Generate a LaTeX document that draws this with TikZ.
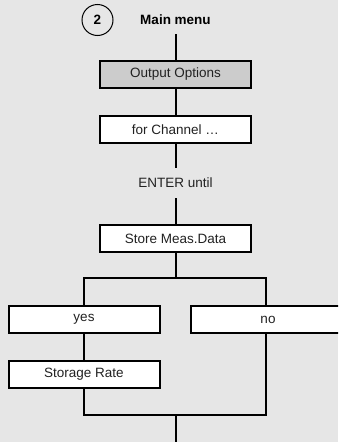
\documentclass[tikz,border=0pt]{standalone}
\usepackage{fontspec}
\setmainfont{Liberation Sans}
\usetikzlibrary{positioning,calc}
\definecolor{bg}{HTML}{E6E6E6}
\definecolor{selgray}{HTML}{CCCCCC}
\definecolor{txt}{HTML}{222222}

\begin{document}
\begin{tikzpicture}[x=1pt,y=-1pt,line width=2pt,
  menubox/.style={draw,minimum width=151pt,minimum height=27pt,inner sep=0,fill=white,font=\fontsize{13.5}{16}\selectfont,text=txt},
  selbox/.style={menubox,fill=selgray},
  stepno/.style={draw,circle,line width=1pt,minimum size=31pt,inner sep=0,font=\bfseries\fontsize{13.5}{16}\selectfont}]
\fill[bg] (0,0) rectangle (338,442);
\useasboundingbox (0,0) rectangle (338,442);
\clip (0,0) rectangle (338,442);
\node[stepno] (num) at (97.5,20) {2};
\node[font=\bfseries\fontsize{13.5}{16}\selectfont] (title) at (175.5,20) {Main menu};
\coordinate (top) at (175.5,34);
\node[selbox] (outopt) at (175.5,74.5) {Output Options};
\node[menubox] (channel) at (175.5,129.5) {for Channel \dots};
\node[minimum height=28pt,inner sep=0,font=\fontsize{13.5}{16}\selectfont,text=txt] (enter) at (175.5,183) {ENTER until};
\node[menubox] (store) at (175.5,238.5) {Store Meas.Data};
\node[menubox] (yes) at (84,319.5) {yes};
\node[menubox,minimum width=154pt] (no) at (268,319.5) {no};
\node[menubox] (rate) at (84,374.5) {Storage Rate};
\coordinate (split) at (175.5,278);
\coordinate (notop) at (266,306);
\coordinate (nobot) at (266,333);
\coordinate (merge) at (175.5,415);
\coordinate (out) at (175.5,445);
% main chain
\draw (top) -- (outopt.north);
\draw (outopt.south) -- (channel.north);
\draw (channel.south) -- (enter.north);
\draw (enter.south) -- (store.north);
\draw (store.south) -- (split);
% branches
\draw (yes.north) -- (yes.north |- split) -- (notop |- split) -- (notop);
\draw (yes.south) -- (rate.north);
\draw (rate.south) -- (rate.south |- merge) -- (nobot |- merge) -- (nobot);
\draw (merge) -- (out);
\end{tikzpicture}
\end{document}
